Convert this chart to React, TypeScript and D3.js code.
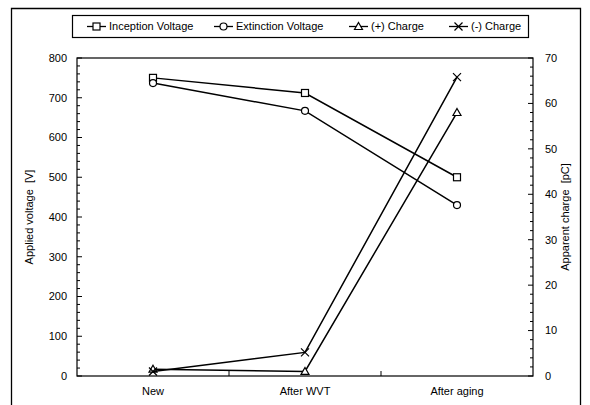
import React, { useEffect, useRef } from 'react';
import * as d3 from 'd3';

// chart values
const categories = ['New', 'After WVT', 'After aging'];
const inceptionVoltage = [750, 712, 500];
const extinctionVoltage = [737, 667, 430];
const positiveCharge = [1.5, 1.0, 58];
const negativeCharge = [1.0, 5.2, 65.8];

const voltageTicks = [0, 100, 200, 300, 400, 500, 600, 700, 800];
const chargeTicks = [0, 10, 20, 30, 40, 50, 60, 70];

const legendNames = ['Inception Voltage', 'Extinction Voltage', '(+) Charge', '(-) Charge'];
const markerTypes = ['square', 'circle', 'triangle', 'cross'];

const FONT = 'Liberation Sans, Arial, sans-serif';

const App = () => {
    const svgRef = useRef(null);

    useEffect(() => {
        const svg = d3.select(svgRef.current);
        svg.selectAll('*').remove();

        const width = 590;
        const height = 405;
        const margin = { top: 58, right: 57, bottom: 29, left: 77 };
        const innerWidth = width - margin.left - margin.right;
        const innerHeight = height - margin.top - margin.bottom;

        svg.append('rect').attr('width', width).attr('height', height).attr('fill', '#fff');

        // outer frame of the figure
        svg.append('path')
            .attr('d', `M11.5,412 V8.5 H580.5 V412`)
            .attr('fill', 'none')
            .attr('stroke', '#000')
            .attr('stroke-width', 1.3);

        const x = d3.scalePoint().domain(categories).range([0, innerWidth]).padding(0.5);
        const band = d3.scaleBand().domain(categories).range([0, innerWidth]);
        const yLeft = d3.scaleLinear().domain([0, 800]).range([innerHeight, 0]);
        const yRight = d3.scaleLinear().domain([0, 70]).range([innerHeight, 0]);

        const g = svg.append('g').attr('transform', `translate(${margin.left},${margin.top})`);

        // plot box
        g.append('rect')
            .attr('width', innerWidth)
            .attr('height', innerHeight)
            .attr('fill', 'none')
            .attr('stroke', '#000')
            .attr('stroke-width', 1.2);

        // left axis: major every 100, minor every 20, ticks pointing inward
        const leftAxis = g.append('g');
        leftAxis.selectAll('line')
            .data(d3.range(0, 801, 20))
            .join('line')
            .attr('x1', 0).attr('x2', d => (d % 100 === 0 ? 5 : 3))
            .attr('y1', d => yLeft(d)).attr('y2', d => yLeft(d))
            .attr('stroke', '#000');
        leftAxis.selectAll('text')
            .data(voltageTicks)
            .join('text')
            .attr('x', -10)
            .attr('y', d => yLeft(d))
            .attr('dy', '0.35em')
            .attr('text-anchor', 'end')
            .attr('font-family', FONT)
            .attr('font-size', 11)
            .text(d => d);

        // right axis: major every 10, minor every 2
        const rightAxis = g.append('g').attr('transform', `translate(${innerWidth},0)`);
        rightAxis.selectAll('line')
            .data(d3.range(0, 71, 2))
            .join('line')
            .attr('x1', 0).attr('x2', d => (d % 10 === 0 ? -5 : -3))
            .attr('y1', d => yRight(d)).attr('y2', d => yRight(d))
            .attr('stroke', '#000');
        rightAxis.selectAll('text')
            .data(chargeTicks)
            .join('text')
            .attr('x', 12)
            .attr('y', d => yRight(d))
            .attr('dy', '0.35em')
            .attr('text-anchor', 'start')
            .attr('font-family', FONT)
            .attr('font-size', 11)
            .text(d => d);

        // x axis: ticks between categories
        const bottomAxis = g.append('g').attr('transform', `translate(0,${innerHeight})`);
        bottomAxis.selectAll('line')
            .data(categories.slice(1))
            .join('line')
            .attr('x1', d => band(d)).attr('x2', d => band(d))
            .attr('y1', 0).attr('y2', -5)
            .attr('stroke', '#000');
        bottomAxis.selectAll('text')
            .data(categories)
            .join('text')
            .attr('x', d => x(d))
            .attr('y', 19)
            .attr('text-anchor', 'middle')
            .attr('font-family', FONT)
            .attr('font-size', 11)
            .text(d => d);

        // axis titles
        g.append('text')
            .attr('transform', `translate(${-44},${innerHeight / 2}) rotate(-90)`)
            .attr('text-anchor', 'middle')
            .attr('font-family', FONT)
            .attr('font-size', 11)
            .attr('xml:space', 'preserve')
            .text('Applied voltage  [V]');
        g.append('text')
            .attr('transform', `translate(${innerWidth + 36},${innerHeight / 2}) rotate(-90)`)
            .attr('text-anchor', 'middle')
            .attr('font-family', FONT)
            .attr('font-size', 11)
            .attr('xml:space', 'preserve')
            .text('Apparent charge  [pC]');

        const drawMarker = (sel, type, cx, cy) => {
            if (type === 'square') {
                sel.append('rect').attr('x', cx - 3.5).attr('y', cy - 3.5).attr('width', 7).attr('height', 7)
                    .attr('fill', '#fff').attr('stroke', '#000').attr('stroke-width', 1.2);
            } else if (type === 'circle') {
                sel.append('circle').attr('cx', cx).attr('cy', cy).attr('r', 3.5)
                    .attr('fill', '#fff').attr('stroke', '#000').attr('stroke-width', 1.2);
            } else if (type === 'triangle') {
                sel.append('path').attr('d', `M${cx},${cy - 4} L${cx + 4},${cy + 3} L${cx - 4},${cy + 3}Z`)
                    .attr('fill', '#fff').attr('stroke', '#000').attr('stroke-width', 1.2);
            } else {
                sel.append('path').attr('d', `M${cx - 4},${cy - 4} L${cx + 4},${cy + 4} M${cx - 4},${cy + 4} L${cx + 4},${cy - 4}`)
                    .attr('fill', 'none').attr('stroke', '#000').attr('stroke-width', 1.2);
            }
        };

        const series = [
            { values: inceptionVoltage, scale: yLeft, marker: markerTypes[0] },
            { values: extinctionVoltage, scale: yLeft, marker: markerTypes[1] },
            { values: positiveCharge, scale: yRight, marker: markerTypes[2] },
            { values: negativeCharge, scale: yRight, marker: markerTypes[3] },
        ];

        series.forEach(s => {
            const line = d3.line<number>()
                .x((_, i) => x(categories[i]))
                .y(d => s.scale(d));
            g.append('path')
                .datum(s.values)
                .attr('fill', 'none')
                .attr('stroke', '#000')
                .attr('stroke-width', 1.5)
                .attr('d', line);
            const mg = g.append('g');
            s.values.forEach((v, i) => drawMarker(mg, s.marker, x(categories[i]), s.scale(v)));
        });

        // legend
        const legend = svg.append('g');
        legend.append('rect')
            .attr('x', 72.5).attr('y', 15.5).attr('width', 456).attr('height', 22)
            .attr('fill', '#fff').attr('stroke', '#000').attr('stroke-width', 1.2);
        const legendX = [87, 214, 349, 449];
        legendNames.forEach((name, i) => {
            const lx = legendX[i];
            legend.append('line')
                .attr('x1', lx).attr('x2', lx + 19).attr('y1', 26.5).attr('y2', 26.5)
                .attr('stroke', '#000').attr('stroke-width', 1.3);
            drawMarker(legend, markerTypes[i], lx + 9.5, 26.5);
            legend.append('text')
                .attr('x', lx + 22)
                .attr('y', 26.5)
                .attr('dy', '0.35em')
                .attr('font-family', FONT)
                .attr('font-size', 11)
                .text(name);
        });
    }, []);

    return (
        <svg ref={svgRef} width={590} height={405} style={{ position: 'absolute', left: 0, top: 0 }} />
    );
};

export default App;
